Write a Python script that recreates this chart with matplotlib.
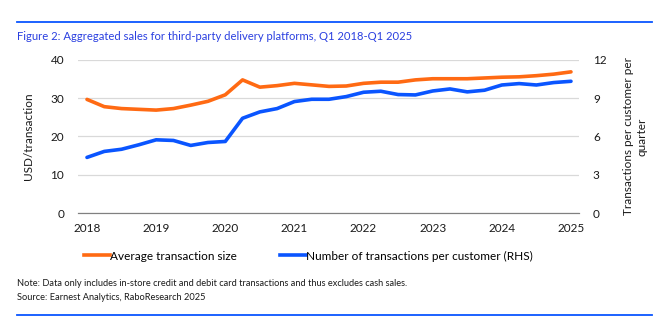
import numpy as np
import matplotlib.pyplot as plt
from matplotlib.lines import Line2D

plt.rcParams['font.family'] = ['Lato', 'DejaVu Sans']

# Quarterly data, Q1 2018 - Q1 2025
quarters = np.arange(2018, 2025.01, 0.25)
avg_transaction = [29.7, 27.8, 27.3, 27.1, 26.9, 27.3, 28.2, 29.2, 30.9, 34.8,
                   32.9, 33.3, 33.9, 33.5, 33.1, 33.2, 33.9, 34.2, 34.2, 34.8,
                   35.1, 35.1, 35.1, 35.3, 35.5, 35.6, 35.9, 36.3, 36.9]
tx_per_customer = [4.36, 4.83, 5.0, 5.35, 5.74, 5.69, 5.30, 5.53, 5.61, 7.43,
                   7.93, 8.19, 8.74, 8.92, 8.92, 9.13, 9.47, 9.55, 9.29, 9.26,
                   9.57, 9.73, 9.50, 9.63, 10.04, 10.15, 10.04, 10.23, 10.33]
years = list(range(2018, 2026))

orange = "#ff6a13"
blue = "#0a55ff"
title_blue = "#2a3fe0"
text_col = "#1a1a1a"

fig = plt.figure(figsize=(6.6, 3.22), dpi=100)

# Rules top and bottom
fig.add_artist(Line2D([17/660, 652/660], [1-22/322, 1-22/322], color=blue, lw=1.3))
fig.add_artist(Line2D([17/660, 652/660], [1-315/322, 1-315/322], color=blue, lw=1.3))

fig.text(17/660, 1-37/322, "Figure 2: Aggregated sales for third-party delivery platforms, Q1 2018-Q1 2025",
         color=title_blue, fontsize=8.1, va="center", ha="left")

ax = fig.add_axes([78/660, 1-213/322, (579-78)/660, (213-60)/322])
ax2 = ax.twinx()

ax.plot(quarters, avg_transaction, color=orange, lw=2.6, solid_capstyle="round")
ax2.plot(quarters, tx_per_customer, color=blue, lw=2.6, solid_capstyle="round")

ax.set_ylim(0, 40)
ax2.set_ylim(0, 12)
ax.set_yticks([0, 10, 20, 30, 40])
ax2.set_yticks([0, 3, 6, 9, 12])
ax.set_xlim(2017.87, 2025.116)
ax.set_xticks(years)
ax.set_xticklabels([str(y) for y in years])

ax.yaxis.grid(True, color="#d9d9d9", lw=0.9)
ax.set_axisbelow(True)
for a in (ax, ax2):
    for s in ("top", "left", "right"):
        a.spines[s].set_visible(False)
    a.spines["bottom"].set_color("#808080")
    a.tick_params(length=0, labelsize=8.5, colors=text_col)
ax.tick_params(axis="x", pad=7)
ax.tick_params(axis="y", pad=10)
ax2.tick_params(axis="y", pad=10)

ax.set_ylabel("USD/transaction", fontsize=8.5, color=text_col, labelpad=12)
ax2.set_ylabel("Transactions per customer per\nquarter", fontsize=8.5, color=text_col,
               labelpad=12, linespacing=1.3)

# Legend
handles = [Line2D([], [], color=orange, lw=2.6), Line2D([], [], color=blue, lw=2.6)]
fig.legend(handles, ["Average transaction size", "Number of transactions per customer (RHS)"],
           loc="center left", bbox_to_anchor=(73/660, 1-256/322), ncol=2, frameon=False,
           fontsize=8.5, handlelength=2.2, handletextpad=0.05, columnspacing=3.6)

fig.text(17/660, 1-283/322,
         "Note: Data only includes in-store credit and debit card transactions and thus excludes cash sales.",
         fontsize=6.7, color=text_col, va="center")
fig.text(17/660, 1-298/322, "Source: Earnest Analytics, RaboResearch 2025",
         fontsize=6.7, color=text_col, va="center")

fig.savefig("out.png", dpi=100)
